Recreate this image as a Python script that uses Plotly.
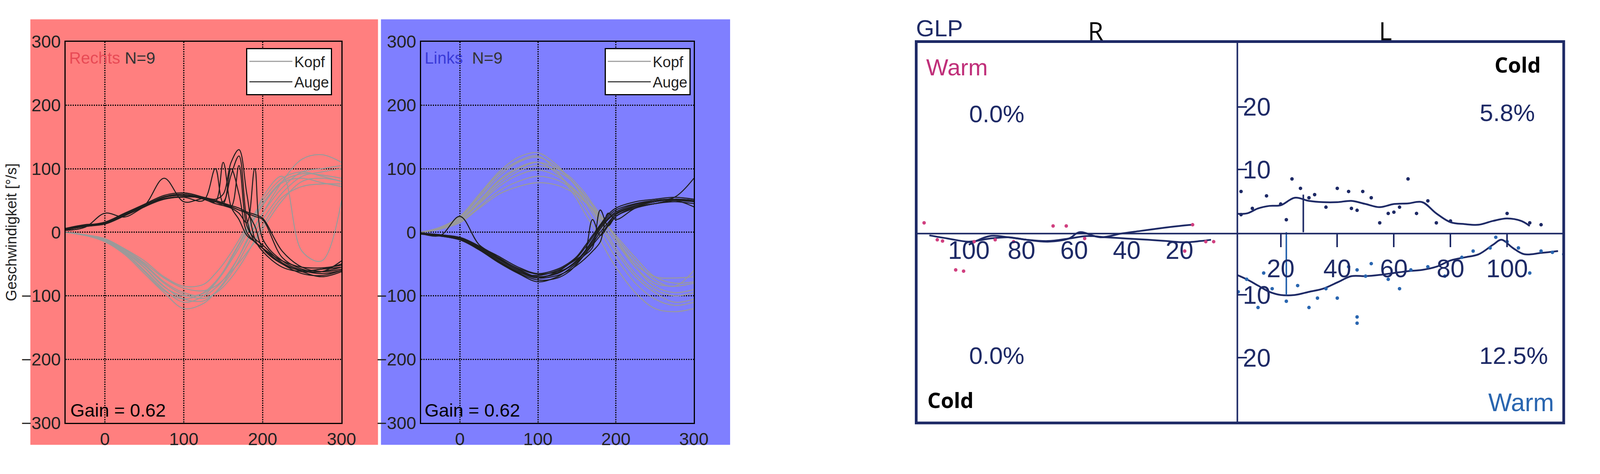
import plotly.graph_objects as go

# ---------------- data: left panels (velocity traces) ----------------
t = [-50, -25, 0, 25, 50, 75, 100, 125, 140, 150, 160, 170, 180, 190, 200, 225, 250, 275, 300]

kopf_rechts = [
    [0, -5, -15, -35, -65, -95, -120, -112, -95, -80, -60, -38, -12, 10, 30, 70, 95, 100, 105],
    [0, -5, -12, -30, -55, -85, -105, -108, -95, -82, -65, -45, -22, 0, 20, 62, 88, 95, 100],
    [0, -4, -12, -28, -50, -78, -95, -100, -88, -75, -58, -38, -15, 8, 30, 80, 115, 122, 110],
    [0, -4, -10, -26, -45, -70, -85, -82, -65, -50, -32, -12, 10, 30, 50, 85, 95, 88, 80],
    [0, -5, -13, -32, -60, -90, -110, -100, -80, -62, -40, -18, 5, 25, 45, 80, 92, 90, 85],
    [0, -4, -11, -27, -48, -72, -88, -92, -85, -75, -62, -48, -32, -15, 5, 50, 80, 85, 80],
    [0, -5, -14, -33, -62, -92, -105, -95, -78, -62, -42, -20, 2, 22, 42, 78, 85, 78, 72],
    [0, -4, -12, -30, -52, -80, -98, -104, -96, -86, -72, -55, -35, -12, 10, 55, 72, 76, 76],
    [0, -5, -13, -31, -56, -86, -100, -96, -80, -64, -45, -25, -2, 25, 55, 88, -30, -45, 50],
]
auge_rechts = [
    [5, 10, 15, 28, 40, 55, 58, 55, 52, 60, 110, 130, 60, -10, -30, -55, -62, -62, -55],
    [4, 9, 14, 27, 42, 52, 55, 50, 100, 45, 40, 35, 30, 10, -25, -50, -60, -58, -55],
    [6, 11, 16, 30, 44, 58, 62, 55, 48, 110, 40, 20, -5, -15, -25, -50, -60, -58, -50],
    [5, 10, 13, 26, 40, 55, 58, 52, 45, 42, 38, 30, 15, 100, -10, -45, -60, -65, -60],
    [3, 8, 30, 24, 40, 52, 56, 54, 50, 48, 90, 120, 20, -15, -25, -45, -55, -56, -52],
    [6, 12, 14, 28, 42, 85, 48, 53, 50, 45, 40, 35, 30, 25, 20, -40, -58, -62, -45],
    [5, 10, 15, 29, 43, 55, 58, 53, 48, 44, 40, 105, 10, -10, -20, -48, -62, -70, -62],
    [4, 9, 13, 26, 41, 53, 56, 54, 50, 46, 42, 38, 32, 28, 22, -30, -55, -62, -58],
    [5, 11, 15, 28, 42, 56, 60, 54, 48, 45, 100, 60, 0, -15, -25, -50, -65, -68, -60],
]
kopf_links = [
    [0, 8, 25, 60, 95, 118, 125, 105, 85, 70, 50, 30, 10, -10, -30, -70, -95, -110, -105],
    [0, 7, 22, 55, 88, 110, 118, 102, 85, 72, 55, 35, 15, -5, -25, -65, -90, -100, -95],
    [0, 6, 20, 48, 80, 100, 110, 100, 88, 76, 62, 45, 28, 10, -10, -55, -85, -95, -90],
    [0, 6, 18, 45, 72, 90, 98, 88, 75, 64, 50, 35, 18, 2, -15, -55, -80, -85, -80],
    [0, 5, 16, 40, 65, 80, 88, 82, 72, 62, 50, 38, 24, 10, -5, -40, -70, -80, -78],
    [0, 7, 24, 58, 92, 112, 120, 95, 70, 52, 30, 10, -12, -35, -55, -95, -120, -125, -120],
    [0, 6, 20, 50, 82, 102, 110, 92, 74, 58, 40, 20, 0, -20, -40, -80, -105, -115, -110],
    [0, 5, 15, 38, 60, 72, 78, 74, 66, 58, 48, 36, 22, 8, -8, -45, -75, -85, -60],
    [0, 6, 19, 46, 76, 96, 105, 96, 84, 72, 58, 42, 25, 8, -10, -50, -70, -72, -70],
]
auge_links = [
    [-2, -5, -10, -25, -45, -62, -72, -62, -50, -40, -25, -8, 10, 25, 35, 45, 50, 50, 48],
    [-2, -4, -9, -22, -40, -58, -70, -65, -55, -45, -32, -15, 5, 20, 30, 42, 48, 52, 50],
    [-3, -6, -12, -28, -48, -65, -78, -70, -58, -48, -35, -20, -5, 12, 28, 40, 45, 48, 45],
    [-2, -5, 25, -20, -38, -55, -65, -58, -48, -38, -22, -5, 12, 28, 38, 48, 52, 55, 52],
    [-1, -4, -8, -22, -42, -60, -72, -68, -60, -52, -42, -30, -15, 30, 20, 38, 45, 50, 50],
    [-2, -5, -11, -26, -46, -64, -75, -72, -62, -50, -35, -18, 0, 15, 28, 42, 50, 55, 85],
    [-3, -6, -12, -27, -47, -63, -68, -60, -50, -42, -32, 20, -5, 10, 25, 40, 48, 52, 50],
    [-2, -5, -10, -24, -43, -60, -70, -64, -54, -44, -30, -12, 8, 22, 32, 44, 50, 52, 48],
    [-2, -4, -9, -23, -41, -57, -66, -62, -55, -46, -36, -24, 35, 10, 25, 38, 45, 50, 40],
]

# ---------------- data: right panel (GLP) ----------------
r_line1_x = [115, 108, 100, 92, 85, 78, 70, 62, 55, 48, 40, 32, 25, 18, 12, 8]
r_line1_y = [-0.5, -1.0, -1.5, -1.0, -0.8, -1.2, -1.4, -1.0, -0.6, -0.8, -1.0, -1.2, -1.4, -1.6, -1.4, -1.2]
r_line2_x = [100, 92, 85, 78, 70, 62, 58, 50, 42, 35, 28, 20, 15]
r_line2_y = [-2.0, -0.6, -0.8, -1.2, -1.5, -1.0, 0.0, -0.8, -0.2, 0.2, 0.6, 1.0, 1.2]
r_dots_x = [117, 105, 102, 98, 90, 83, 68, 63, 56, 15, 10, 7, 18, 112, 110]
r_dots_y = [1.5, -6.0, -6.2, -1.5, -1.2, -1.5, 1.0, 1.0, -1.0, 1.2, -1.5, -1.5, -3.0, -1.2, -1.4]

l_cold_x = [3, 8, 12, 16, 20, 25, 30, 35, 40, 45, 50, 55, 60, 65, 70, 75, 80, 85, 90, 95, 100, 105, 108]
l_cold_y = [3.0, 3.0, 3.8, 4.2, 4.3, 5.5, 5.0, 4.8, 4.8, 5.0, 4.5, 4.0, 4.5, 4.6, 4.8, 3.0, 1.6, 1.3, 1.2, 1.8, 2.2, 1.8, 1.0]
l_cold_dots_x = [4, 6, 10, 15, 22, 24, 27, 30, 32, 36, 40, 44, 47, 49, 52, 55, 58, 62, 65, 68, 72, 75, 80, 100, 108, 112, 6, 20, 45, 60]
l_cold_dots_y = [8.5, 6.5, 3.8, 5.8, 2.0, 8.5, 7.0, 5.5, 6.0, 4.0, 7.0, 6.5, 3.5, 6.5, 5.5, 1.5, 3.0, 4.0, 8.5, 3.0, 5.0, 1.5, 1.8, 3.0, 1.5, 1.2, 2.8, 4.5, 3.8, 3.2]
l_warm_x = [3, 8, 12, 16, 20, 25, 30, 35, 40, 45, 50, 55, 60, 65, 70, 75, 80, 85, 90, 95, 98, 102, 106, 112, 118]
l_warm_y = [-6.5, -7.5, -8.5, -9.5, -10.0, -10.0, -9.5, -9.0, -8.0, -7.0, -7.0, -6.8, -6.5, -6.2, -6.0, -5.5, -4.5, -4.0, -3.5, -2.0, -1.2, -2.5, -3.5, -3.3, -3.0]
l_warm_dots_x = [2, 5, 8, 12, 14, 17, 22, 26, 30, 33, 36, 40, 44, 47, 50, 52, 58, 62, 66, 72, 78, 84, 88, 94, 96, 100, 104, 108, 112, 116, 120, 47, 47]
l_warm_dots_y = [-6.0, -9.5, -7.5, -12.0, -6.5, -9.0, -11.0, -8.5, -12.0, -10.5, -9.0, -10.5, -5.5, -6.0, -7.0, -5.0, -7.5, -9.0, -6.0, -5.5, -7.0, -4.0, -3.0, -2.5, -0.8, -1.5, -2.5, -6.5, -3.0, -3.2, -3.5, -13.5, -14.5]
l_cold_vline_x = [28, 28]
l_cold_vline_y = [0, 6]
l_warm_vline_x = [22, 22]
l_warm_vline_y = [0, -10]

fig = go.Figure()

KOPF = "#9a9a9a"
AUGE = "#1e1e1e"
NAVY = "#1e2a66"
BLUE = "#2a66b0"

def py(y):
    # reference pixel row -> paper fraction
    return 1.0262 - y / 1185.0

def add_traces(kopf, auge, xa, ya, legend):
    for i, y in enumerate(kopf):
        fig.add_trace(go.Scatter(x=t, y=y, mode="lines", line=dict(color=KOPF, width=2.6, shape="spline"),
                                 name="Kopf", legendgroup=legend + "k", showlegend=(i == 0),
                                 legend=legend, xaxis=xa, yaxis=ya))
    for i, y in enumerate(auge):
        fig.add_trace(go.Scatter(x=t, y=y, mode="lines", line=dict(color=AUGE, width=2.6, shape="spline"),
                                 name="Auge", legendgroup=legend + "a", showlegend=(i == 0),
                                 legend=legend, xaxis=xa, yaxis=ya))

add_traces(kopf_rechts, auge_rechts, "x", "y", "legend")
add_traces(kopf_links, auge_links, "x2", "y2", "legend2")

def ln(x, y, xa, ya, color=NAVY, w=4.5):
    fig.add_trace(go.Scatter(x=x, y=y, mode="lines", line=dict(color=color, width=w, shape="spline"),
                             showlegend=False, xaxis=xa, yaxis=ya))

def dots(x, y, xa, ya, color=NAVY):
    fig.add_trace(go.Scatter(x=x, y=y, mode="markers", marker=dict(color=color, size=9),
                             showlegend=False, xaxis=xa, yaxis=ya))

ln(r_line1_x, r_line1_y, "x3", "y3")
ln(r_line2_x, r_line2_y, "x3", "y3")
dots(r_dots_x, r_dots_y, "x3", "y3", "#d04080")
ln(l_cold_x, l_cold_y, "x4", "y4")
dots(l_cold_dots_x, l_cold_dots_y, "x4", "y4")
ln(l_cold_vline_x, l_cold_vline_y, "x4", "y4", w=4)
ln(l_warm_x, l_warm_y, "x4", "y4", color=NAVY)
dots(l_warm_dots_x, l_warm_dots_y, "x4", "y4", BLUE)
ln(l_warm_vline_x, l_warm_vline_y, "x4", "y4", color=BLUE, w=4)

ydom = [py(1116), py(107)]
mid = py(615)
tickf = dict(family="Liberation Sans, Arial", size=45, color="#222")
common_x = dict(range=[-50, 300], tickvals=[0, 100, 200, 300], showgrid=True, gridcolor="#000",
                griddash="dot", gridwidth=3, showline=True, linecolor="#000", linewidth=3, mirror=True,
                ticks="inside", ticklen=10, tickfont=tickf, zeroline=False)
common_y = dict(range=[-300, 300], tickvals=[-300, -200, -100, 0, 100, 200, 300], showgrid=True,
                gridcolor="#000", griddash="dot", gridwidth=3, showline=True, linecolor="#000", linewidth=3,
                mirror=True, ticks="inside", ticklen=10, tickfont=tickf, zeroline=False)
rtick = dict(family="Liberation Sans, Arial", size=64, color=NAVY)
legf = dict(family="Liberation Sans, Arial", size=38, color="#222")

fig.update_layout(
    autosize=True, margin=dict(l=0, r=0, t=0, b=0),
    paper_bgcolor="white", plot_bgcolor="white",
    xaxis=dict(domain=[0.0395, 0.2143], anchor="y", **common_x),
    yaxis=dict(domain=ydom, anchor="x",
               title=dict(text="Geschwindigkeit [°/s]", font=dict(family="Liberation Sans, Arial", size=38, color="#222"), standoff=10),
               **common_y),
    xaxis2=dict(domain=[0.2646, 0.4375], anchor="y2", **common_x),
    yaxis2=dict(domain=ydom, anchor="x2", **common_y),
    xaxis3=dict(domain=[0.5783, 0.7817], range=[120, -2], anchor="free", position=mid,
                tickvals=[20, 40, 60, 80, 100], showgrid=False, zeroline=False, showline=False,
                ticks="", tickfont=rtick),
    yaxis3=dict(domain=ydom, range=[-30.4, 30.4], anchor="x3", visible=False),
    xaxis4=dict(domain=[0.7817, 0.9884], range=[4.7, 120], anchor="free", position=mid,
                tickvals=[20, 40, 60, 80, 100], showgrid=False, zeroline=False, showline=False,
                ticks="outside", ticklen=34, tickwidth=4, tickcolor=NAVY, tickfont=rtick),
    yaxis4=dict(domain=ydom, range=[-30.4, 30.4], anchor="x4", tickvals=[-20, -10, 10, 20],
                ticktext=["20", "10", "10", "20"], ticks="inside", ticklen=24, tickwidth=4, tickcolor=NAVY,
                ticklabelposition="inside", showgrid=False, zeroline=False, showline=False, tickfont=rtick),
    legend=dict(x=0.154, y=py(124), xanchor="left", yanchor="top", bgcolor="white", bordercolor="#000",
                borderwidth=3, font=legf, itemwidth=110, tracegroupgap=0),
    legend2=dict(x=0.381, y=py(124), xanchor="left", yanchor="top", bgcolor="white", bordercolor="#000",
                 borderwidth=3, font=legf, itemwidth=110, tracegroupgap=0),
)

# panel backgrounds and right-panel frame
fig.add_shape(type="rect", xref="paper", yref="paper", x0=73/4233, x1=1005/4233, y0=py(1174), y1=py(48),
              fillcolor="#ff7f7f", line=dict(width=0), layer="below")
fig.add_shape(type="rect", xref="paper", yref="paper", x0=1013/4233, x1=1949/4233, y0=py(1174), y1=py(48),
              fillcolor="#7f7fff", line=dict(width=0), layer="below")
fig.add_shape(type="rect", xref="paper", yref="paper", x0=0.5783, x1=0.9884, y0=ydom[0], y1=ydom[1],
              line=dict(color=NAVY, width=7))
fig.add_shape(type="line", xref="paper", yref="paper", x0=0.7817, x1=0.7817, y0=ydom[0], y1=ydom[1],
              line=dict(color=NAVY, width=4))
fig.add_shape(type="line", xref="paper", yref="paper", x0=0.5783, x1=0.9884, y0=mid, y1=mid,
              line=dict(color=NAVY, width=4))

def ann(text, x, y, size, color="#000", xanchor="left", font="Liberation Sans, Arial", bold=False):
    fig.add_annotation(text=("<b>%s</b>" % text) if bold else text, x=x / 4233, y=py(y),
                       xref="paper", yref="paper", showarrow=False, xanchor=xanchor, yanchor="middle",
                       font=dict(family=font, size=size, color=color))

ann("<span style='color:#e84a55'>Rechts</span> N=9", 175, 150, 42, "#333")
ann("<span style='color:#3a3ad8'>Links</span>  N=9", 1128, 150, 42, "#333")
ann("Gain = 0.62", 178, 1082, 47)
ann("Gain = 0.62", 1128, 1082, 47)

ann("GLP", 2445, 72, 60, NAVY)
ann("R", 2929, 78, 64, "#000", "center", "Open Sans")
ann("L", 3706, 78, 64, "#000", "center", "Open Sans")
ann("Warm", 2473, 175, 60, "#c0307a")
ann("0.0%", 2664, 298, 62, NAVY, "center")
ann("0.0%", 2664, 938, 62, NAVY, "center")
ann("Cold", 2476, 1055, 54, "#000", bold=True, font="Open Sans")
ann("Cold", 4125, 167, 54, "#000", "right", bold=True, font="Open Sans")
ann("5.8%", 4032, 295, 62, NAVY, "center")
ann("12.5%", 4050, 938, 62, NAVY, "center")
ann("Warm", 4160, 1062, 64, BLUE, "right")

fig.write_html("out.html", default_width="calc(100vw - 16px)", default_height="calc(100vh - 16px)")
